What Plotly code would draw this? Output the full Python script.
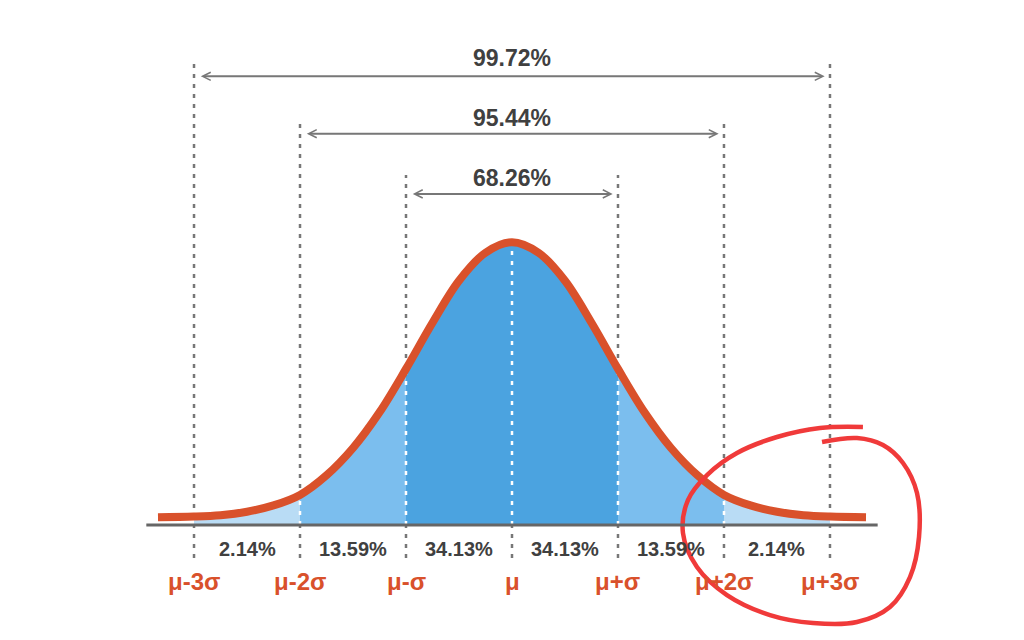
import plotly.graph_objects as go

# positions in units of sigma
sigma_pos = [-3, -2, -1, 0, 1, 2, 3]
sigma_labels = ["μ-3σ", "μ-2σ", "μ-σ", "μ", "μ+σ", "μ+2σ", "μ+3σ"]
band_pct = ["2.14%", "13.59%", "34.13%", "34.13%", "13.59%", "2.14%"]
range_pct = ["68.26%", "95.44%", "99.72%"]
range_width = [1, 2, 3]

# curve (height above the axis)
curve_z = [-3.34, -3.0, -2.75, -2.5, -2.25, -2.0, -1.75, -1.5, -1.25, -1.0, -0.75, -0.5, -0.25, 0.0,
           0.25, 0.5, 0.75, 1.0, 1.25, 1.5, 1.75, 2.0, 2.25, 2.5, 2.75, 3.0, 3.34]
curve_h = [0.011, 0.012, 0.014, 0.019, 0.028, 0.043, 0.071, 0.110, 0.161, 0.223, 0.289, 0.349, 0.389, 0.404,
           0.389, 0.349, 0.289, 0.223, 0.161, 0.110, 0.071, 0.043, 0.028, 0.019, 0.014, 0.012, 0.011]

# hand drawn red loop
circle_x = [2.925, 3.255, 3.50, 3.689, 3.821, 3.84, 3.755, 3.566, 3.255, 2.84, 2.434, 2.028, 1.745,
            1.613, 1.66, 1.84, 2.123, 2.5, 2.906, 3.311]
circle_y = [0.1186, 0.1243, 0.1143, 0.0886, 0.0457, -0.0171, -0.0743, -0.1171, -0.1386, -0.14, -0.1286,
            -0.10, -0.06, -0.0114, 0.0357, 0.0714, 0.1029, 0.1257, 0.1386, 0.14]

band_colors = ["#B9DCF5", "#7BBEEE", "#4BA3E0", "#4BA3E0", "#7BBEEE", "#B9DCF5"]
curve_col = "#D9512B"
gray = "#777777"
txt_col = "#404040"

# top of the gray dashed guide for each sigma line
guide_top = {3: 0.667, 2: 0.581, 1: 0.50, 0: 0.0}
label_y = [0.496, 0.581, 0.667]
arrow_y = [0.473, 0.559, 0.641]

fig = go.Figure()

# gray dashed guides
for s in sigma_pos:
    fig.add_trace(go.Scatter(x=[s, s], y=[-0.047, guide_top[abs(s)]], mode="lines",
                             line=dict(color=gray, width=2.5, dash="4px,6px"), hoverinfo="skip"))

# shaded bands
for i in range(len(sigma_pos) - 1):
    a, b = sigma_pos[i], sigma_pos[i + 1]
    xs = [z for z in curve_z if a <= z <= b]
    ys = [h for z, h in zip(curve_z, curve_h) if a <= z <= b]
    fig.add_trace(go.Scatter(x=xs, y=ys, mode="lines", fill="tozeroy", fillcolor=band_colors[i],
                             line=dict(width=0, shape="spline"), hoverinfo="skip"))

# white dashed lines inside the shading
for s in sigma_pos[1:-1]:
    h = curve_h[curve_z.index(float(s))]
    fig.add_trace(go.Scatter(x=[s, s], y=[0, h], mode="lines",
                             line=dict(color="white", width=2.5, dash="4px,6px"), hoverinfo="skip"))

# the curve
fig.add_trace(go.Scatter(x=curve_z, y=curve_h, mode="lines",
                         line=dict(color=curve_col, width=8, shape="spline"), hoverinfo="skip"))

# red circle
fig.add_trace(go.Scatter(x=circle_x, y=circle_y, mode="lines",
                         line=dict(color="#F03A3A", width=4.5, shape="spline", smoothing=1.0),
                         hoverinfo="skip"))

# axis line
fig.add_shape(type="line", x0=-3.45, x1=3.45, y0=0, y1=0, line=dict(color="#666666", width=3), layer="above")

# band percentages
for i, t in enumerate(band_pct):
    fig.add_annotation(x=(sigma_pos[i] + sigma_pos[i + 1]) / 2, y=-0.034, text="<b>%s</b>" % t,
                       showarrow=False, font=dict(family="Liberation Sans, Arial", size=20, color=txt_col))

# sigma labels
for s, t in zip(sigma_pos, sigma_labels):
    fig.add_annotation(x=s, y=-0.080, text="<b>%s</b>" % t, showarrow=False,
                       font=dict(family="Liberation Sans, Arial", size=24, color=curve_col))

# ranges with double arrows
for w, t, ly, ay in zip(range_width, range_pct, label_y, arrow_y):
    fig.add_annotation(x=0, y=ly, text="<b>%s</b>" % t, showarrow=False,
                       font=dict(family="Liberation Sans, Arial", size=23, color=txt_col))
    fig.add_annotation(x=w - 0.05, y=ay, ax=-w + 0.05, ay=ay, axref="x", ayref="y", text="",
                       showarrow=True, arrowside="end+start", arrowhead=5, startarrowhead=5,
                       arrowsize=0.8, startarrowsize=0.8, arrowwidth=2, arrowcolor=gray)

# ranges shifted to make up for the page's 8px body margin
fig.update_layout(
    width=1024, height=640,
    margin=dict(l=0, r=0, t=0, b=0),
    plot_bgcolor="white", paper_bgcolor="white",
    showlegend=False,
    xaxis=dict(range=[-4.755, 4.906], visible=False),
    yaxis=dict(range=[-0.1757, 0.7386], visible=False),
)

fig.write_html("out.html")
